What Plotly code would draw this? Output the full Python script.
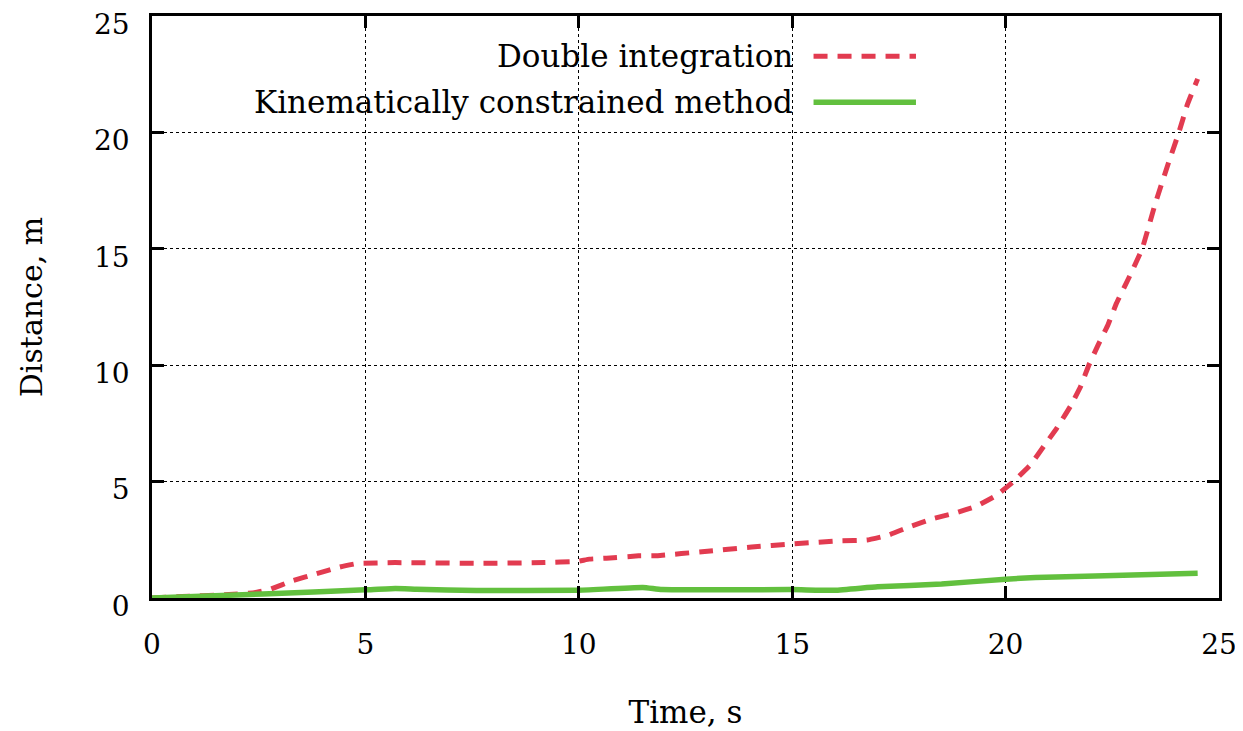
import plotly.graph_objects as go

# Double integration (red dashed)
t_double = [0, 0.7, 1.7, 2.4, 2.75, 3.3, 3.85, 4.4, 4.8, 5.7, 7.6, 9.2, 9.95, 10.25, 10.65, 11.4, 11.85,
            12.95, 14.05, 15.0, 16.15, 16.75, 17.25, 17.75, 18.3, 18.8, 19.3, 19.77, 20.16, 20.59,
            20.9, 21.2, 21.52, 21.76, 21.95, 22.15, 22.4, 22.6, 22.9, 23.2, 23.5, 23.8, 24.06, 24.26, 24.5]
d_double = [0, 0.06, 0.14, 0.23, 0.36, 0.75, 1.04, 1.33, 1.48, 1.52, 1.49, 1.52, 1.57, 1.67, 1.71, 1.81, 1.82,
            2.0, 2.19, 2.32, 2.46, 2.49, 2.7, 3.06, 3.41, 3.64, 3.93, 4.39, 4.96, 5.74,
            6.53, 7.3, 8.24, 9.1, 10.0, 10.8, 11.74, 12.67, 13.8, 15.0, 16.9, 18.6, 20.0, 21.2, 22.3]

# Kinematically constrained method (green solid)
t_kin = [0, 2.6, 5.0, 5.7, 6.2, 7.6, 9.95, 11.5, 11.95, 15.0, 16.0, 17.0, 18.5, 20.0, 20.7, 22.1, 24.5]
d_kin = [0, 0.17, 0.35, 0.41, 0.38, 0.32, 0.33, 0.45, 0.36, 0.36, 0.33, 0.48, 0.6, 0.81, 0.88, 0.94, 1.06]

names = ["Double integration", "Kinematically constrained method"]
colors = ["#e23b50", "#62c03e"]
x_ticks = [0, 5, 10, 15, 20, 25]
y_ticks = [0, 5, 10, 15, 20, 25]

FONT = "DejaVu Serif"

fig = go.Figure()
fig.add_trace(go.Scatter(x=t_double, y=d_double, mode="lines", name=names[0],
                         line=dict(color=colors[0], width=5, dash="14px,10px", shape="spline", smoothing=0.3),
                         showlegend=False))
fig.add_trace(go.Scatter(x=t_kin, y=d_kin, mode="lines", name=names[1],
                         line=dict(color=colors[1], width=5.5, shape="spline", smoothing=0.4),
                         showlegend=False))

axis_common = dict(
    showline=True, linecolor="black", linewidth=2.5, mirror="ticks",
    ticks="inside", ticklen=12, tickwidth=2.5, tickcolor="black",
    showgrid=True, gridcolor="black", griddash="dot", gridwidth=1.2,
    zeroline=False, tickfont=dict(family=FONT, size=28, color="black"),
    automargin=False, ticklabeloverflow="allow",
)

fig.update_xaxes(range=[0, 25], tickvals=x_ticks, ticklabelstandoff=20, ticklabelshift=0,
                 title=dict(text="Time, s", font=dict(family=FONT, size=31, color="black"), standoff=41),
                 **axis_common)
fig.update_yaxes(range=[0, 25], tickvals=y_ticks, ticklabelstandoff=14, ticklabelshift=8,
                 title=dict(text="Distance, m", font=dict(family=FONT, size=30, color="black"), standoff=43),
                 **axis_common)

# Legend drawn gnuplot-style: text right-aligned, sample on the right
leg_rows = [(0.931, colors[0], "14px,10px", 5), (0.852, colors[1], "solid", 5.5)]
for (yy, col, dash, w), nm in zip(leg_rows, names):
    fig.add_annotation(xref="paper", yref="paper", x=0.603, y=yy, text=nm, showarrow=False,
                       xanchor="right", yanchor="middle",
                       font=dict(family=FONT, size=31, color="black"))
    fig.add_shape(type="line", xref="paper", yref="paper", x0=0.620, x1=0.716, y0=yy, y1=yy,
                  line=dict(color=col, width=w, dash=dash))

fig.update_layout(
    width=1243, height=731,
    margin=dict(l=144, r=32, t=8, b=141),
    paper_bgcolor="white", plot_bgcolor="white",
    font=dict(family=FONT, color="black"),
)

fig.write_html("out.html")
